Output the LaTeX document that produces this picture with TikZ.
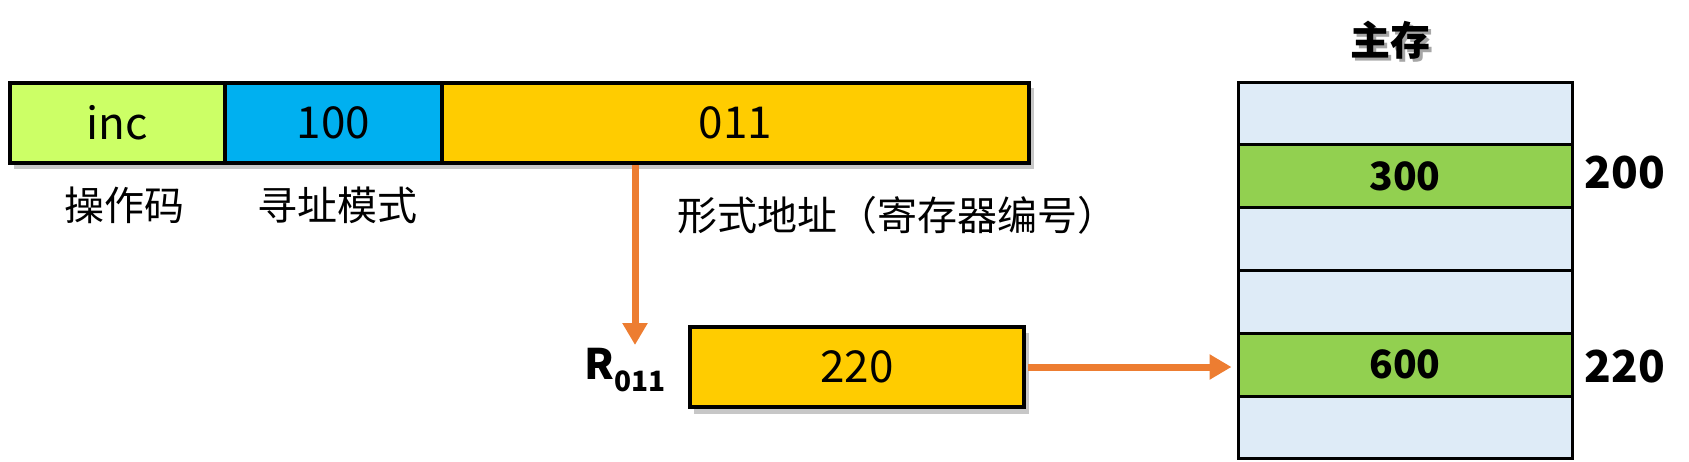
\documentclass[tikz,border=0pt]{standalone}
\usepackage{fontspec}
\setmainfont{Noto Sans CJK SC}
\usetikzlibrary{arrows.meta}
\definecolor{incgreen}{HTML}{CCFF66}
\definecolor{modeblue}{HTML}{00B0F0}
\definecolor{addrgold}{HTML}{FFCC00}
\definecolor{memblue}{HTML}{DEEBF7}
\definecolor{memgreen}{HTML}{92D050}
\definecolor{arrorange}{HTML}{ED7D31}
\begin{document}
\begin{tikzpicture}[x=1pt,y=-1pt,
  box/.style={draw=black, line width=4pt, inner sep=0pt, minimum height=80pt, font=\fontsize{44}{52}\selectfont},
  mem/.style={draw=black, line width=3pt, inner sep=0pt, minimum width=334pt, minimum height=62.8pt, fill=memblue, font=\bfseries\fontsize{39}{46}\selectfont},
  lbl/.style={inner sep=0pt, font=\fontsize{40}{48}\selectfont},
  addrlbl/.style={inner sep=0pt, font=\bfseries\fontsize{44}{52}\selectfont},
  arr/.style={draw=arrorange, line width=7pt, -{Triangle[length=22pt,width=24pt]}},
  shadowbox/.style={fill=black, opacity=0.22}
]
\useasboundingbox (0,0) rectangle (1689,461);
% instruction
\fill[shadowbox] (14,88) rectangle (1034,169);
\node[box, fill=incgreen, minimum width=215pt] (inc) at (117.5,123) {inc};
\node[box, fill=modeblue, minimum width=217pt] (mode) at (333.5,123) {100};
\node[box, fill=addrgold, minimum width=587pt] (addr) at (735.5,123) {011};
\node[lbl] (lop) at (124,205) {操作码};
\node[lbl] (lmode) at (337,205) {寻址模式};
\node[lbl] (laddr) at (897,215) {形式地址（寄存器编号）};
% register
\coordinate (t1) at (635,345);
\draw[arr] (addr.south -| t1) -- (t1);
\fill[shadowbox] (694,333) rectangle (1029,414);
\node[box, fill=addrgold, minimum width=334pt] (reg) at (857,367) {220};
\node[inner sep=0pt, font=\bfseries\fontsize{42}{50}\selectfont] (rlab) at (625,370) {R\raisebox{-0.3em}{\fontsize{28}{30}\selectfont 011}};
% memory
\node[font=\bfseries\fontsize{40}{48}\selectfont, text=black!35, inner sep=0pt] (titleshadow) at (1393,43) {主存};
\node[font=\bfseries\fontsize{40}{48}\selectfont, inner sep=0pt] (title) at (1390,40) {主存};
\node[mem] (m1) at (1405,113.4) {};
\node[mem, fill=memgreen] (m2) at (1405,176.2) {300};
\node[mem] (m3) at (1405,239) {};
\node[mem] (m4) at (1405,301.8) {};
\node[mem, fill=memgreen] (m5) at (1405,364.6) {600};
\node[mem] (m6) at (1405,427.4) {};
\node[addrlbl] (a200) at (1625,173) {200};
\node[addrlbl] (a220) at (1625,367) {220};
\draw[arr] ([xshift=2pt]reg.east) -- ([xshift=-5pt]reg.east -| m5.west);
\end{tikzpicture}
\end{document}
